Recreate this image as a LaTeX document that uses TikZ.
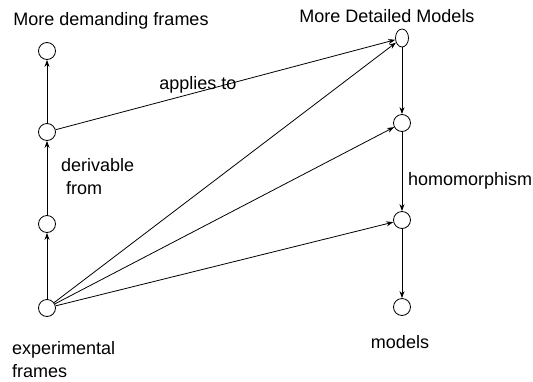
\documentclass[tikz,border=0pt]{standalone}
\usepackage{fontspec}
\setmainfont{Liberation Sans}
\usepackage{tikz}
\usetikzlibrary{arrows.meta,positioning,shapes.geometric}
\tikzset{
  state/.style={draw,circle,inner sep=0pt,minimum size=17pt,line width=0.8pt},
  detail/.style={draw,ellipse,inner sep=0pt,minimum width=13pt,minimum height=18pt,line width=0.8pt},
  label/.style={font=\fontsize{18}{23}\selectfont,inner sep=0pt},
  rel/.style={-{Stealth[length=7pt,width=5pt]},line width=0.8pt},
}

\begin{document}
\begin{tikzpicture}[x=1pt,y=-1pt]
  \useasboundingbox (0,0) rectangle (533,381);
  % frames
  \node[state] (demand) at (47,51) {};
  \node[state] (frameB) at (47,132) {};
  \node[state] (frameA) at (47,224) {};
  \node[state] (exper) at (47,308) {};
  % models
  \node[detail] (detailed) at (402,38) {};
  \node[state] (modelB) at (402,123) {};
  \node[state] (modelA) at (402,220) {};
  \node[state] (models) at (402,307) {};
  % labels
  \node[label] (tdemand) at (111,21) {More demanding frames};
  \node[label] (tdetail) at (387,16) {More Detailed Models};
  \node[label] (tapplies) at (198,85) {applies to};
  \node[label,align=left,anchor=west] (tderiv) at (61,177) {derivable\\\ from};
  \node[label,anchor=west] (thomo) at (408,181) {homomorphism};
  \node[label] (tmodels) at (400,342) {models};
  \node[label,align=left,anchor=west] (texper) at (12,360) {experimental\\frames};
  % connectors
  \draw[rel] (exper)--(frameA); \draw[rel] (frameA)--(frameB); \draw[rel] (frameB)--(demand);
  \draw[rel] (detailed)--(modelB); \draw[rel] (modelB)--(modelA); \draw[rel] (modelA)--(models);
  \draw[rel] (frameB)--(detailed);
  \draw[rel] (exper)--(detailed); \draw[rel] (exper)--(modelB); \draw[rel] (exper)--(modelA);
\end{tikzpicture}
\end{document}
